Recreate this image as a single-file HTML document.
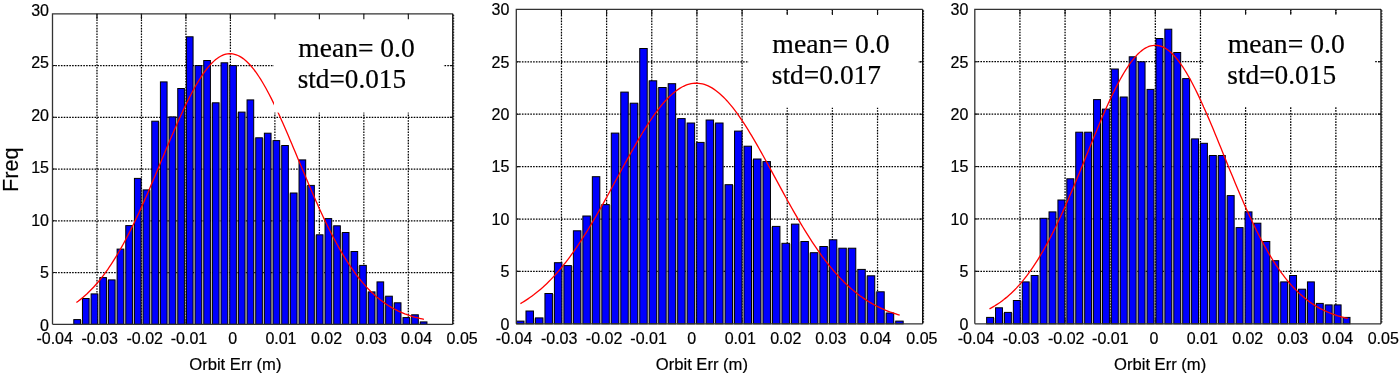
<!DOCTYPE html><html><head><meta charset="utf-8"><style>html,body{margin:0;padding:0;background:#fff;}svg{display:block;will-change:transform;}text{font-family:"Liberation Sans",sans-serif;fill:#000;stroke:#000;stroke-width:0.2px;}</style></head><body><svg width="1400" height="374" viewBox="0 0 1400 374"><rect x="0" y="0" width="1400" height="374" fill="#fff"/><path d="M96.98 13.8V324.3M141.46 13.8V324.3M185.93 13.8V324.3M230.41 13.8V324.3M274.89 13.8V324.3M319.37 13.8V324.3M363.84 13.8V324.3M408.32 13.8V324.3M52.5 272.55H452.8M52.5 220.8H452.8M52.5 169.05H452.8M52.5 117.3H452.8M52.5 65.55H452.8" stroke="#000" stroke-width="1.25" stroke-dasharray="1.6 1.2" fill="none"/><path d="M96.98 324.3v-5.5M141.46 324.3v-5.5M185.93 324.3v-5.5M230.41 324.3v-5.5M274.89 324.3v-5.5M319.37 324.3v-5.5M363.84 324.3v-5.5M408.32 324.3v-5.5" stroke="#111" stroke-width="1.1" fill="none"/><g fill="#0000ff" stroke="#000" stroke-width="1"><rect x="73.79" y="319.6" width="6.66" height="4.7"/><rect x="82.45" y="298.5" width="6.66" height="25.8"/><rect x="91.12" y="293.9" width="6.66" height="30.4"/><rect x="99.78" y="277.6" width="6.66" height="46.7"/><rect x="108.44" y="279.9" width="6.66" height="44.4"/><rect x="117.11" y="249.1" width="6.66" height="75.2"/><rect x="125.77" y="225.6" width="6.66" height="98.7"/><rect x="134.43" y="178.4" width="6.66" height="145.9"/><rect x="143.09" y="189.9" width="6.66" height="134.4"/><rect x="151.76" y="121.2" width="6.66" height="203.1"/><rect x="160.42" y="81.9" width="6.66" height="242.4"/><rect x="169.08" y="116.9" width="6.66" height="207.4"/><rect x="177.75" y="88.5" width="6.66" height="235.8"/><rect x="186.41" y="36.8" width="6.66" height="287.5"/><rect x="195.07" y="65.6" width="6.66" height="258.7"/><rect x="203.74" y="60.5" width="6.66" height="263.8"/><rect x="212.4" y="102.8" width="6.66" height="221.5"/><rect x="221.06" y="62.8" width="6.66" height="261.5"/><rect x="229.72" y="65.6" width="6.66" height="258.7"/><rect x="238.39" y="112.1" width="6.66" height="212.2"/><rect x="247.05" y="99.9" width="6.66" height="224.4"/><rect x="255.71" y="137.8" width="6.66" height="186.5"/><rect x="264.38" y="133.2" width="6.66" height="191.1"/><rect x="273.04" y="140.6" width="6.66" height="183.7"/><rect x="281.7" y="145.5" width="6.66" height="178.8"/><rect x="290.37" y="193" width="6.66" height="131.3"/><rect x="299.03" y="159.9" width="6.66" height="164.4"/><rect x="307.69" y="185.4" width="6.66" height="138.9"/><rect x="316.35" y="234.8" width="6.66" height="89.5"/><rect x="325.02" y="218.6" width="6.66" height="105.7"/><rect x="333.68" y="225.8" width="6.66" height="98.5"/><rect x="342.34" y="232.5" width="6.66" height="91.8"/><rect x="351.01" y="251.5" width="6.66" height="72.8"/><rect x="359.67" y="265.4" width="6.66" height="58.9"/><rect x="368.33" y="291.9" width="6.66" height="32.4"/><rect x="377" y="281.9" width="6.66" height="42.4"/><rect x="385.66" y="296.2" width="6.66" height="28.1"/><rect x="394.32" y="302.8" width="6.66" height="21.5"/><rect x="402.98" y="317.6" width="6.66" height="6.7"/><rect x="411.65" y="314.8" width="6.66" height="9.5"/><rect x="420.31" y="321.9" width="6.66" height="2.4"/></g><g fill="#707040" fill-opacity="0.45"><rect x="80.95" y="320.1" width="1" height="4.2"/><rect x="89.62" y="299" width="1" height="25.3"/><rect x="98.28" y="294.4" width="1" height="29.9"/><rect x="106.94" y="280.4" width="1" height="43.9"/><rect x="115.61" y="280.4" width="1" height="43.9"/><rect x="124.27" y="249.6" width="1" height="74.7"/><rect x="132.93" y="226.1" width="1" height="98.2"/><rect x="141.59" y="190.4" width="1" height="133.9"/><rect x="150.26" y="190.4" width="1" height="133.9"/><rect x="158.92" y="121.7" width="1" height="202.6"/><rect x="167.58" y="117.4" width="1" height="206.9"/><rect x="176.25" y="117.4" width="1" height="206.9"/><rect x="184.91" y="89" width="1" height="235.3"/><rect x="193.57" y="66.1" width="1" height="258.2"/><rect x="202.24" y="66.1" width="1" height="258.2"/><rect x="210.9" y="103.3" width="1" height="221"/><rect x="219.56" y="103.3" width="1" height="221"/><rect x="228.22" y="66.1" width="1" height="258.2"/><rect x="236.89" y="112.6" width="1" height="211.7"/><rect x="245.55" y="112.6" width="1" height="211.7"/><rect x="254.21" y="138.3" width="1" height="186"/><rect x="262.88" y="138.3" width="1" height="186"/><rect x="271.54" y="141.1" width="1" height="183.2"/><rect x="280.2" y="146" width="1" height="178.3"/><rect x="288.87" y="193.5" width="1" height="130.8"/><rect x="297.53" y="193.5" width="1" height="130.8"/><rect x="306.19" y="185.9" width="1" height="138.4"/><rect x="314.85" y="235.3" width="1" height="89"/><rect x="323.52" y="235.3" width="1" height="89"/><rect x="332.18" y="226.3" width="1" height="98"/><rect x="340.84" y="233" width="1" height="91.3"/><rect x="349.51" y="252" width="1" height="72.3"/><rect x="358.17" y="265.9" width="1" height="58.4"/><rect x="366.83" y="292.4" width="1" height="31.9"/><rect x="375.5" y="292.4" width="1" height="31.9"/><rect x="384.16" y="296.7" width="1" height="27.6"/><rect x="392.82" y="303.3" width="1" height="21"/><rect x="401.48" y="318.1" width="1" height="6.2"/><rect x="410.15" y="318.1" width="1" height="6.2"/><rect x="418.81" y="322.4" width="1" height="1.9"/></g><polyline points="76.4,302.47 78.14,301.2 79.88,299.87 81.61,298.48 83.35,297.03 85.09,295.51 86.83,293.94 88.56,292.29 90.3,290.58 92.04,288.8 93.78,286.95 95.51,285.03 97.25,283.04 98.99,280.97 100.73,278.83 102.46,276.61 104.2,274.32 105.94,271.95 107.68,269.51 109.41,266.98 111.15,264.38 112.89,261.71 114.62,258.95 116.36,256.12 118.1,253.21 119.84,250.22 121.58,247.16 123.31,244.02 125.05,240.81 126.79,237.53 128.53,234.17 130.26,230.75 132,227.26 133.74,223.7 135.48,220.08 137.21,216.4 138.95,212.66 140.69,208.86 142.43,205.01 144.16,201.12 145.9,197.17 147.64,193.19 149.38,189.17 151.11,185.11 152.85,181.03 154.59,176.92 156.32,172.79 158.06,168.64 159.8,164.48 161.54,160.32 163.28,156.16 165.01,152 166.75,147.86 168.49,143.73 170.23,139.62 171.96,135.54 173.7,131.49 175.44,127.49 177.18,123.53 178.91,119.62 180.65,115.77 182.39,111.99 184.12,108.27 185.86,104.63 187.6,101.08 189.34,97.61 191.07,94.24 192.81,90.96 194.55,87.79 196.29,84.74 198.03,81.8 199.76,78.98 201.5,76.29 203.24,73.73 204.97,71.3 206.71,69.02 208.45,66.88 210.19,64.9 211.93,63.06 213.66,61.38 215.4,59.86 217.14,58.5 218.88,57.31 220.61,56.28 222.35,55.43 224.09,54.74 225.83,54.23 227.56,53.89 229.3,53.72 231.04,53.73 232.78,53.91 234.51,54.26 236.25,54.79 237.99,55.49 239.72,56.36 241.46,57.4 243.2,58.6 244.94,59.97 246.68,61.51 248.41,63.2 250.15,65.05 251.89,67.05 253.62,69.2 255.36,71.49 257.1,73.92 258.84,76.5 260.58,79.2 262.31,82.03 264.05,84.98 265.79,88.04 267.52,91.22 269.26,94.5 271,97.88 272.74,101.36 274.48,104.92 276.21,108.56 277.95,112.28 279.69,116.07 281.43,119.93 283.16,123.84 284.9,127.8 286.64,131.81 288.38,135.86 290.11,139.94 291.85,144.05 293.59,148.18 295.33,152.33 297.06,156.49 298.8,160.65 300.54,164.81 302.27,168.97 304.01,173.11 305.75,177.24 307.49,181.35 309.23,185.43 310.96,189.49 312.7,193.51 314.44,197.49 316.18,201.43 317.91,205.32 319.65,209.16 321.39,212.95 323.12,216.69 324.86,220.37 326.6,223.98 328.34,227.53 330.08,231.02 331.81,234.44 333.55,237.79 335.29,241.07 337.02,244.27 338.76,247.4 340.5,250.46 342.24,253.44 343.98,256.35 345.71,259.17 347.45,261.92 349.19,264.59 350.92,267.19 352.66,269.7 354.4,272.14 356.14,274.51 357.88,276.79 359.61,279 361.35,281.14 363.09,283.2 364.83,285.18 366.56,287.1 368.3,288.94 370.04,290.72 371.77,292.43 373.51,294.06 375.25,295.64 376.99,297.15 378.73,298.59 380.46,299.98 382.2,301.3 383.94,302.57 385.67,303.78 387.41,304.93 389.15,306.03 390.89,307.08 392.62,308.08 394.36,309.04 396.1,309.94 397.84,310.8 399.58,311.62 401.31,312.39 403.05,313.13 404.79,313.83 406.52,314.48 408.26,315.11 410,315.7 411.74,316.26 413.48,316.78 415.21,317.28 416.95,317.74 418.69,318.18 420.42,318.6 422.16,318.99 423.9,319.35" fill="none" stroke="#ff0000" stroke-width="1.3"/><rect x="274" y="14.5" width="169.8" height="98.1" fill="#fff"/><text x="298.3" y="57.3" textLength="116.43" lengthAdjust="spacingAndGlyphs" style="font-family:'Liberation Serif',serif;font-size:28px">mean= 0.0</text><text x="297.73" y="88.2" textLength="108.33" lengthAdjust="spacingAndGlyphs" style="font-family:'Liberation Serif',serif;font-size:28px">std=0.015</text><path d="M96.98 13.8v5.5M141.46 13.8v5.5M185.93 13.8v5.5M230.41 13.8v5.5M274.89 13.8v5.5M319.37 13.8v5.5M363.84 13.8v5.5M408.32 13.8v5.5M52.5 272.55h3M452.8 272.55h-3M52.5 220.8h3M452.8 220.8h-3M52.5 169.05h3M452.8 169.05h-3M52.5 117.3h3M452.8 117.3h-3M52.5 65.55h3M452.8 65.55h-3" stroke="#111" stroke-width="1.1" fill="none"/><path d="M52.5 324.3V13.8H452.8M52.5 324.3H452.8" stroke="#333" stroke-width="1.3" fill="none"/><path d="M452.8 13.8V324.3" stroke="#000" stroke-width="1.3" fill="none"/><path d="M453.7 14.8V324.3" stroke="#000" stroke-width="0.9" stroke-dasharray="1.4 1.4" fill="none"/><text x="54.65" y="343.8" text-anchor="middle" font-size="16">-0.04</text><text x="99.65" y="343.8" text-anchor="middle" font-size="16">-0.03</text><text x="144.75" y="343.8" text-anchor="middle" font-size="16">-0.02</text><text x="189" y="343.8" text-anchor="middle" font-size="16">-0.01</text><text x="232.75" y="343.8" text-anchor="middle" font-size="16">0</text><text x="280.95" y="343.8" text-anchor="middle" font-size="16">0.01</text><text x="326.55" y="343.8" text-anchor="middle" font-size="16">0.02</text><text x="371.4" y="343.8" text-anchor="middle" font-size="16">0.03</text><text x="416.5" y="343.8" text-anchor="middle" font-size="16">0.04</text><text x="462.15" y="343.8" text-anchor="middle" font-size="16">0.05</text><text x="49" y="330.95" text-anchor="end" font-size="16">0</text><text x="49" y="278.45" text-anchor="end" font-size="16">5</text><text x="49" y="225.95" text-anchor="end" font-size="16">10</text><text x="49" y="173.45" text-anchor="end" font-size="16">15</text><text x="49" y="120.95" text-anchor="end" font-size="16">20</text><text x="49" y="68.45" text-anchor="end" font-size="16">25</text><text x="49" y="15.95" text-anchor="end" font-size="16">30</text><text x="235.35" y="369.9" text-anchor="middle" font-size="16.6">Orbit Err (m)</text><path d="M561.46 9.4V323.8M606.61 9.4V323.8M651.77 9.4V323.8M696.92 9.4V323.8M742.08 9.4V323.8M787.23 9.4V323.8M832.39 9.4V323.8M877.54 9.4V323.8M516.3 271.4H922.7M516.3 219H922.7M516.3 166.6H922.7M516.3 114.2H922.7M516.3 61.8H922.7" stroke="#000" stroke-width="1.25" stroke-dasharray="1.6 1.2" fill="none"/><path d="M561.46 323.8v-5.5M606.61 323.8v-5.5M651.77 323.8v-5.5M696.92 323.8v-5.5M742.08 323.8v-5.5M787.23 323.8v-5.5M832.39 323.8v-5.5M877.54 323.8v-5.5" stroke="#111" stroke-width="1.1" fill="none"/><g fill="#0000ff" stroke="#000" stroke-width="1"><rect x="516.5" y="321.1" width="7.48" height="2.7"/><rect x="525.98" y="311" width="7.48" height="12.8"/><rect x="535.46" y="317.9" width="7.48" height="5.9"/><rect x="544.94" y="293.5" width="7.48" height="30.3"/><rect x="554.42" y="262.7" width="7.48" height="61.1"/><rect x="563.9" y="265.6" width="7.48" height="58.2"/><rect x="573.38" y="230.8" width="7.48" height="93"/><rect x="582.86" y="216" width="7.48" height="107.8"/><rect x="592.34" y="176.7" width="7.48" height="147.1"/><rect x="601.82" y="204.6" width="7.48" height="119.2"/><rect x="611.3" y="133.1" width="7.48" height="190.7"/><rect x="620.78" y="92.1" width="7.48" height="231.7"/><rect x="630.26" y="103.2" width="7.48" height="220.6"/><rect x="639.74" y="48.5" width="7.48" height="275.3"/><rect x="649.22" y="80.8" width="7.48" height="243"/><rect x="658.7" y="87.5" width="7.48" height="236.3"/><rect x="668.18" y="83.7" width="7.48" height="240.1"/><rect x="677.66" y="118.6" width="7.48" height="205.2"/><rect x="687.14" y="123" width="7.48" height="200.8"/><rect x="696.62" y="142.4" width="7.48" height="181.4"/><rect x="706.1" y="120" width="7.48" height="203.8"/><rect x="715.58" y="123" width="7.48" height="200.8"/><rect x="725.06" y="184.7" width="7.48" height="139.1"/><rect x="734.54" y="131.1" width="7.48" height="192.7"/><rect x="744.02" y="146.2" width="7.48" height="177.6"/><rect x="753.5" y="159" width="7.48" height="164.8"/><rect x="762.98" y="161.6" width="7.48" height="162.2"/><rect x="772.46" y="226.4" width="7.48" height="97.4"/><rect x="781.94" y="243.3" width="7.48" height="80.5"/><rect x="791.42" y="224.1" width="7.48" height="99.7"/><rect x="800.9" y="241.5" width="7.48" height="82.3"/><rect x="810.38" y="252.7" width="7.48" height="71.1"/><rect x="819.86" y="246.5" width="7.48" height="77.3"/><rect x="829.34" y="239.8" width="7.48" height="84"/><rect x="838.82" y="248.2" width="7.48" height="75.6"/><rect x="848.3" y="248.2" width="7.48" height="75.6"/><rect x="857.78" y="269.4" width="7.48" height="54.4"/><rect x="867.26" y="275.8" width="7.48" height="48"/><rect x="876.74" y="291.8" width="7.48" height="32"/><rect x="886.22" y="313" width="7.48" height="10.8"/><rect x="895.7" y="321.1" width="7.48" height="2.7"/></g><g fill="#707040" fill-opacity="0.45"><rect x="524.48" y="321.6" width="1" height="2.2"/><rect x="533.96" y="318.4" width="1" height="5.4"/><rect x="543.44" y="318.4" width="1" height="5.4"/><rect x="552.92" y="294" width="1" height="29.8"/><rect x="562.4" y="266.1" width="1" height="57.7"/><rect x="571.88" y="266.1" width="1" height="57.7"/><rect x="581.36" y="231.3" width="1" height="92.5"/><rect x="590.84" y="216.5" width="1" height="107.3"/><rect x="600.32" y="205.1" width="1" height="118.7"/><rect x="609.8" y="205.1" width="1" height="118.7"/><rect x="619.28" y="133.6" width="1" height="190.2"/><rect x="628.76" y="103.7" width="1" height="220.1"/><rect x="638.24" y="103.7" width="1" height="220.1"/><rect x="647.72" y="81.3" width="1" height="242.5"/><rect x="657.2" y="88" width="1" height="235.8"/><rect x="666.68" y="88" width="1" height="235.8"/><rect x="676.16" y="119.1" width="1" height="204.7"/><rect x="685.64" y="123.5" width="1" height="200.3"/><rect x="695.12" y="142.9" width="1" height="180.9"/><rect x="704.6" y="142.9" width="1" height="180.9"/><rect x="714.08" y="123.5" width="1" height="200.3"/><rect x="723.56" y="185.2" width="1" height="138.6"/><rect x="733.04" y="185.2" width="1" height="138.6"/><rect x="742.52" y="146.7" width="1" height="177.1"/><rect x="752" y="159.5" width="1" height="164.3"/><rect x="761.48" y="162.1" width="1" height="161.7"/><rect x="770.96" y="226.9" width="1" height="96.9"/><rect x="780.44" y="243.8" width="1" height="80"/><rect x="789.92" y="243.8" width="1" height="80"/><rect x="799.4" y="242" width="1" height="81.8"/><rect x="808.88" y="253.2" width="1" height="70.6"/><rect x="818.36" y="253.2" width="1" height="70.6"/><rect x="827.84" y="247" width="1" height="76.8"/><rect x="837.32" y="248.7" width="1" height="75.1"/><rect x="846.8" y="248.7" width="1" height="75.1"/><rect x="856.28" y="269.9" width="1" height="53.9"/><rect x="865.76" y="276.3" width="1" height="47.5"/><rect x="875.24" y="292.3" width="1" height="31.5"/><rect x="884.72" y="313.5" width="1" height="10.3"/><rect x="894.2" y="321.6" width="1" height="2.2"/></g><polyline points="520.4,303.57 522.3,302.47 524.19,301.32 526.09,300.12 527.99,298.87 529.88,297.57 531.78,296.21 533.68,294.81 535.57,293.35 537.47,291.84 539.37,290.27 541.26,288.64 543.16,286.96 545.05,285.21 546.95,283.41 548.85,281.55 550.74,279.63 552.64,277.64 554.54,275.6 556.43,273.49 558.33,271.33 560.23,269.1 562.12,266.81 564.02,264.45 565.92,262.04 567.81,259.56 569.71,257.03 571.61,254.43 573.5,251.77 575.4,249.06 577.29,246.29 579.19,243.46 581.09,240.58 582.98,237.64 584.88,234.65 586.78,231.61 588.67,228.52 590.57,225.38 592.47,222.2 594.36,218.98 596.26,215.71 598.16,212.41 600.05,209.08 601.95,205.71 603.85,202.31 605.74,198.89 607.64,195.45 609.54,191.98 611.43,188.5 613.33,185.01 615.23,181.52 617.12,178.01 619.02,174.51 620.91,171.01 622.81,167.52 624.71,164.04 626.6,160.58 628.5,157.14 630.4,153.73 632.29,150.34 634.19,146.99 636.09,143.68 637.98,140.41 639.88,137.19 641.78,134.03 643.67,130.92 645.57,127.87 647.47,124.89 649.36,121.98 651.26,119.15 653.15,116.39 655.05,113.72 656.95,111.14 658.84,108.65 660.74,106.26 662.64,103.96 664.53,101.77 666.43,99.69 668.33,97.72 670.22,95.86 672.12,94.12 674.02,92.5 675.91,91 677.81,89.63 679.71,88.39 681.6,87.27 683.5,86.29 685.4,85.44 687.29,84.72 689.19,84.15 691.09,83.7 692.98,83.4 694.88,83.23 696.77,83.21 698.67,83.32 700.57,83.57 702.46,83.96 704.36,84.48 706.26,85.14 708.15,85.94 710.05,86.87 711.95,87.93 713.84,89.13 715.74,90.45 717.64,91.9 719.53,93.47 721.43,95.16 723.33,96.97 725.22,98.9 727.12,100.94 729.01,103.09 730.91,105.34 732.81,107.69 734.7,110.15 736.6,112.69 738.5,115.33 740.39,118.05 742.29,120.85 744.19,123.73 746.08,126.69 747.98,129.71 749.88,132.79 751.77,135.94 753.67,139.14 755.57,142.39 757.46,145.68 759.36,149.02 761.26,152.39 763.15,155.79 765.05,159.22 766.95,162.68 768.84,166.15 770.74,169.64 772.63,173.13 774.53,176.63 776.43,180.14 778.32,183.64 780.22,187.13 782.12,190.61 784.01,194.08 785.91,197.54 787.81,200.97 789.7,204.37 791.6,207.75 793.5,211.1 795.39,214.42 797.29,217.69 799.19,220.93 801.08,224.13 802.98,227.29 804.88,230.39 806.77,233.45 808.67,236.46 810.56,239.42 812.46,242.33 814.36,245.18 816.25,247.97 818.15,250.71 820.05,253.39 821.94,256.01 823.84,258.57 825.74,261.07 827.63,263.51 829.53,265.89 831.43,268.2 833.32,270.46 835.22,272.65 837.12,274.78 839.01,276.85 840.91,278.85 842.81,280.8 844.7,282.68 846.6,284.51 848.49,286.28 850.39,287.98 852.29,289.63 854.18,291.23 856.08,292.76 857.98,294.24 859.87,295.67 861.77,297.04 863.67,298.36 865.56,299.63 867.46,300.85 869.36,302.02 871.25,303.14 873.15,304.22 875.05,305.25 876.94,306.23 878.84,307.18 880.74,308.08 882.63,308.94 884.53,309.76 886.42,310.55 888.32,311.3 890.22,312.01 892.11,312.69 894.01,313.33 895.91,313.95 897.8,314.53 899.7,315.08" fill="none" stroke="#ff0000" stroke-width="1.3"/><rect x="748.5" y="15" width="169.5" height="92.5" fill="#fff"/><text x="772.3" y="52.8" textLength="117.43" lengthAdjust="spacingAndGlyphs" style="font-family:'Liberation Serif',serif;font-size:28px">mean= 0.0</text><text x="771.82" y="83.9" textLength="109.24" lengthAdjust="spacingAndGlyphs" style="font-family:'Liberation Serif',serif;font-size:28px">std=0.017</text><path d="M561.46 9.4v5.5M606.61 9.4v5.5M651.77 9.4v5.5M696.92 9.4v5.5M742.08 9.4v5.5M787.23 9.4v5.5M832.39 9.4v5.5M877.54 9.4v5.5M516.3 271.4h3M922.7 271.4h-3M516.3 219h3M922.7 219h-3M516.3 166.6h3M922.7 166.6h-3M516.3 114.2h3M922.7 114.2h-3M516.3 61.8h3M922.7 61.8h-3" stroke="#111" stroke-width="1.1" fill="none"/><path d="M516.3 323.8V9.4H922.7M516.3 323.8H922.7" stroke="#333" stroke-width="1.3" fill="none"/><path d="M922.7 9.4V323.8" stroke="#000" stroke-width="1.3" fill="none"/><path d="M923.6 10.4V323.8" stroke="#000" stroke-width="0.9" stroke-dasharray="1.4 1.4" fill="none"/><text x="514.05" y="343.8" text-anchor="middle" font-size="16">-0.04</text><text x="559.15" y="343.8" text-anchor="middle" font-size="16">-0.03</text><text x="604.05" y="343.8" text-anchor="middle" font-size="16">-0.02</text><text x="648.55" y="343.8" text-anchor="middle" font-size="16">-0.01</text><text x="691.65" y="343.8" text-anchor="middle" font-size="16">0</text><text x="740.25" y="343.8" text-anchor="middle" font-size="16">0.01</text><text x="785.75" y="343.8" text-anchor="middle" font-size="16">0.02</text><text x="830.8" y="343.8" text-anchor="middle" font-size="16">0.03</text><text x="875.65" y="343.8" text-anchor="middle" font-size="16">0.04</text><text x="921.9" y="343.8" text-anchor="middle" font-size="16">0.05</text><text x="509.3" y="329.55" text-anchor="end" font-size="16">0</text><text x="509.3" y="277.15" text-anchor="end" font-size="16">5</text><text x="509.3" y="224.75" text-anchor="end" font-size="16">10</text><text x="509.3" y="172.35" text-anchor="end" font-size="16">15</text><text x="509.3" y="119.95" text-anchor="end" font-size="16">20</text><text x="509.3" y="67.55" text-anchor="end" font-size="16">25</text><text x="509.3" y="15.15" text-anchor="end" font-size="16">30</text><text x="701.9" y="369.9" text-anchor="middle" font-size="16.6">Orbit Err (m)</text><path d="M1019.93 9.3V323.8M1065.07 9.3V323.8M1110.2 9.3V323.8M1155.33 9.3V323.8M1200.47 9.3V323.8M1245.6 9.3V323.8M1290.73 9.3V323.8M1335.87 9.3V323.8M974.8 271.38H1381M974.8 218.97H1381M974.8 166.55H1381M974.8 114.13H1381M974.8 61.72H1381" stroke="#000" stroke-width="1.25" stroke-dasharray="1.6 1.2" fill="none"/><path d="M1019.93 323.8v-5.5M1065.07 323.8v-5.5M1110.2 323.8v-5.5M1155.33 323.8v-5.5M1200.47 323.8v-5.5M1245.6 323.8v-5.5M1290.73 323.8v-5.5M1335.87 323.8v-5.5" stroke="#111" stroke-width="1.1" fill="none"/><g fill="#0000ff" stroke="#000" stroke-width="1"><rect x="986.64" y="317.4" width="6.91" height="6.4"/><rect x="995.55" y="307.8" width="6.91" height="16"/><rect x="1004.46" y="312.4" width="6.91" height="11.4"/><rect x="1013.37" y="300.5" width="6.91" height="23.3"/><rect x="1022.28" y="281.9" width="6.91" height="41.9"/><rect x="1031.19" y="275.5" width="6.91" height="48.3"/><rect x="1040.11" y="218.3" width="6.91" height="105.5"/><rect x="1049.02" y="211.9" width="6.91" height="111.9"/><rect x="1057.93" y="200" width="6.91" height="123.8"/><rect x="1066.84" y="178.8" width="6.91" height="145"/><rect x="1075.75" y="132.2" width="6.91" height="191.6"/><rect x="1084.66" y="132.2" width="6.91" height="191.6"/><rect x="1093.57" y="99.6" width="6.91" height="224.2"/><rect x="1102.48" y="109.1" width="6.91" height="214.7"/><rect x="1111.39" y="69" width="6.91" height="254.8"/><rect x="1120.31" y="97" width="6.91" height="226.8"/><rect x="1129.22" y="56.8" width="6.91" height="267"/><rect x="1138.13" y="61.8" width="6.91" height="262"/><rect x="1147.04" y="89.4" width="6.91" height="234.4"/><rect x="1155.95" y="38.5" width="6.91" height="285.3"/><rect x="1164.86" y="29.2" width="6.91" height="294.6"/><rect x="1173.77" y="52.5" width="6.91" height="271.3"/><rect x="1182.68" y="78.6" width="6.91" height="245.2"/><rect x="1191.59" y="138.9" width="6.91" height="184.9"/><rect x="1200.5" y="143.3" width="6.91" height="180.5"/><rect x="1209.41" y="155.5" width="6.91" height="168.3"/><rect x="1218.33" y="155.5" width="6.91" height="168.3"/><rect x="1227.24" y="195.6" width="6.91" height="128.2"/><rect x="1236.15" y="227.6" width="6.91" height="96.2"/><rect x="1245.06" y="211.9" width="6.91" height="111.9"/><rect x="1253.97" y="223.2" width="6.91" height="100.6"/><rect x="1262.88" y="241.5" width="6.91" height="82.3"/><rect x="1271.79" y="260.7" width="6.91" height="63.1"/><rect x="1280.7" y="281.9" width="6.91" height="41.9"/><rect x="1289.61" y="275.5" width="6.91" height="48.3"/><rect x="1298.53" y="289.2" width="6.91" height="34.6"/><rect x="1307.44" y="281.9" width="6.91" height="41.9"/><rect x="1316.35" y="303.4" width="6.91" height="20.4"/><rect x="1325.26" y="304.9" width="6.91" height="18.9"/><rect x="1334.17" y="304.9" width="6.91" height="18.9"/><rect x="1343.08" y="317.4" width="6.91" height="6.4"/></g><g fill="#707040" fill-opacity="0.45"><rect x="994.05" y="317.9" width="1" height="5.9"/><rect x="1002.96" y="312.9" width="1" height="10.9"/><rect x="1011.87" y="312.9" width="1" height="10.9"/><rect x="1020.78" y="301" width="1" height="22.8"/><rect x="1029.69" y="282.4" width="1" height="41.4"/><rect x="1038.61" y="276" width="1" height="47.8"/><rect x="1047.52" y="218.8" width="1" height="105"/><rect x="1056.43" y="212.4" width="1" height="111.4"/><rect x="1065.34" y="200.5" width="1" height="123.3"/><rect x="1074.25" y="179.3" width="1" height="144.5"/><rect x="1083.16" y="132.7" width="1" height="191.1"/><rect x="1092.07" y="132.7" width="1" height="191.1"/><rect x="1100.98" y="109.6" width="1" height="214.2"/><rect x="1109.89" y="109.6" width="1" height="214.2"/><rect x="1118.81" y="97.5" width="1" height="226.3"/><rect x="1127.72" y="97.5" width="1" height="226.3"/><rect x="1136.63" y="62.3" width="1" height="261.5"/><rect x="1145.54" y="89.9" width="1" height="233.9"/><rect x="1154.45" y="89.9" width="1" height="233.9"/><rect x="1163.36" y="39" width="1" height="284.8"/><rect x="1172.27" y="53" width="1" height="270.8"/><rect x="1181.18" y="79.1" width="1" height="244.7"/><rect x="1190.09" y="139.4" width="1" height="184.4"/><rect x="1199" y="143.8" width="1" height="180"/><rect x="1207.91" y="156" width="1" height="167.8"/><rect x="1216.83" y="156" width="1" height="167.8"/><rect x="1225.74" y="196.1" width="1" height="127.7"/><rect x="1234.65" y="228.1" width="1" height="95.7"/><rect x="1243.56" y="228.1" width="1" height="95.7"/><rect x="1252.47" y="223.7" width="1" height="100.1"/><rect x="1261.38" y="242" width="1" height="81.8"/><rect x="1270.29" y="261.2" width="1" height="62.6"/><rect x="1279.2" y="282.4" width="1" height="41.4"/><rect x="1288.11" y="282.4" width="1" height="41.4"/><rect x="1297.03" y="289.7" width="1" height="34.1"/><rect x="1305.94" y="289.7" width="1" height="34.1"/><rect x="1314.85" y="303.9" width="1" height="19.9"/><rect x="1323.76" y="305.4" width="1" height="18.4"/><rect x="1332.67" y="305.4" width="1" height="18.4"/><rect x="1341.58" y="317.9" width="1" height="5.9"/></g><polyline points="989.5,308.87 991.29,307.9 993.08,306.87 994.87,305.8 996.66,304.67 998.46,303.48 1000.25,302.24 1002.04,300.93 1003.83,299.57 1005.62,298.13 1007.41,296.63 1009.2,295.07 1010.99,293.43 1012.78,291.72 1014.57,289.94 1016.37,288.09 1018.16,286.16 1019.95,284.15 1021.74,282.06 1023.53,279.9 1025.32,277.65 1027.11,275.32 1028.9,272.91 1030.69,270.41 1032.48,267.83 1034.28,265.17 1036.07,262.42 1037.86,259.59 1039.65,256.67 1041.44,253.67 1043.23,250.58 1045.02,247.41 1046.81,244.16 1048.6,240.82 1050.39,237.4 1052.18,233.91 1053.98,230.34 1055.77,226.69 1057.56,222.96 1059.35,219.17 1061.14,215.31 1062.93,211.38 1064.72,207.39 1066.51,203.34 1068.3,199.24 1070.1,195.08 1071.89,190.88 1073.68,186.63 1075.47,182.34 1077.26,178.02 1079.05,173.67 1080.84,169.29 1082.63,164.9 1084.42,160.49 1086.21,156.08 1088.01,151.66 1089.8,147.25 1091.59,142.85 1093.38,138.47 1095.17,134.11 1096.96,129.78 1098.75,125.48 1100.54,121.23 1102.33,117.03 1104.12,112.89 1105.91,108.81 1107.71,104.8 1109.5,100.87 1111.29,97.03 1113.08,93.27 1114.87,89.62 1116.66,86.07 1118.45,82.63 1120.24,79.3 1122.03,76.1 1123.83,73.03 1125.62,70.1 1127.41,67.31 1129.2,64.66 1130.99,62.16 1132.78,59.82 1134.57,57.65 1136.36,55.63 1138.15,53.79 1139.94,52.12 1141.74,50.63 1143.53,49.32 1145.32,48.18 1147.11,47.24 1148.9,46.48 1150.69,45.9 1152.48,45.52 1154.27,45.33 1156.06,45.32 1157.85,45.51 1159.64,45.89 1161.44,46.45 1163.23,47.21 1165.02,48.15 1166.81,49.27 1168.6,50.58 1170.39,52.06 1172.18,53.73 1173.97,55.56 1175.76,57.57 1177.56,59.74 1179.35,62.08 1181.14,64.57 1182.93,67.21 1184.72,70 1186.51,72.92 1188.3,75.99 1190.09,79.18 1191.88,82.5 1193.67,85.94 1195.47,89.49 1197.26,93.14 1199.05,96.89 1200.84,100.73 1202.63,104.66 1204.42,108.66 1206.21,112.74 1208,116.88 1209.79,121.08 1211.58,125.33 1213.38,129.62 1215.17,133.95 1216.96,138.31 1218.75,142.69 1220.54,147.09 1222.33,151.5 1224.12,155.92 1225.91,160.33 1227.7,164.74 1229.49,169.14 1231.29,173.51 1233.08,177.86 1234.87,182.19 1236.66,186.47 1238.45,190.72 1240.24,194.93 1242.03,199.09 1243.82,203.19 1245.61,207.25 1247.4,211.24 1249.2,215.17 1250.99,219.03 1252.78,222.83 1254.57,226.55 1256.36,230.2 1258.15,233.78 1259.94,237.28 1261.73,240.7 1263.52,244.04 1265.31,247.29 1267.11,250.47 1268.9,253.56 1270.69,256.56 1272.48,259.48 1274.27,262.32 1276.06,265.07 1277.85,267.74 1279.64,270.32 1281.43,272.82 1283.22,275.23 1285.02,277.57 1286.81,279.82 1288.6,281.99 1290.39,284.08 1292.18,286.09 1293.97,288.02 1295.76,289.88 1297.55,291.66 1299.34,293.37 1301.13,295.01 1302.92,296.58 1304.72,298.08 1306.51,299.51 1308.3,300.89 1310.09,302.19 1311.88,303.44 1313.67,304.63 1315.46,305.76 1317.25,306.84 1319.04,307.86 1320.84,308.83 1322.63,309.75 1324.42,310.63 1326.21,311.46 1328,312.24 1329.79,312.98 1331.58,313.68 1333.37,314.34 1335.16,314.97 1336.95,315.56 1338.75,316.11 1340.54,316.64 1342.33,317.13 1344.12,317.59 1345.91,318.02 1347.7,318.43" fill="none" stroke="#ff0000" stroke-width="1.3"/><rect x="1204" y="15" width="170" height="92" fill="#fff"/><text x="1227.8" y="52.8" textLength="116.93" lengthAdjust="spacingAndGlyphs" style="font-family:'Liberation Serif',serif;font-size:28px">mean= 0.0</text><text x="1227.32" y="83.9" textLength="108.73" lengthAdjust="spacingAndGlyphs" style="font-family:'Liberation Serif',serif;font-size:28px">std=0.015</text><path d="M1019.93 9.3v5.5M1065.07 9.3v5.5M1110.2 9.3v5.5M1155.33 9.3v5.5M1200.47 9.3v5.5M1245.6 9.3v5.5M1290.73 9.3v5.5M1335.87 9.3v5.5M974.8 271.38h3M1381 271.38h-3M974.8 218.97h3M1381 218.97h-3M974.8 166.55h3M1381 166.55h-3M974.8 114.13h3M1381 114.13h-3M974.8 61.72h3M1381 61.72h-3" stroke="#111" stroke-width="1.1" fill="none"/><path d="M974.8 323.8V9.3H1381M974.8 323.8H1381" stroke="#333" stroke-width="1.3" fill="none"/><path d="M1381 9.3V323.8" stroke="#000" stroke-width="1.3" fill="none"/><path d="M1381.9 10.3V323.8" stroke="#000" stroke-width="0.9" stroke-dasharray="1.4 1.4" fill="none"/><text x="975.95" y="343.8" text-anchor="middle" font-size="16">-0.04</text><text x="1021.05" y="343.8" text-anchor="middle" font-size="16">-0.03</text><text x="1066.25" y="343.8" text-anchor="middle" font-size="16">-0.02</text><text x="1110.35" y="343.8" text-anchor="middle" font-size="16">-0.01</text><text x="1153.85" y="343.8" text-anchor="middle" font-size="16">0</text><text x="1202.25" y="343.8" text-anchor="middle" font-size="16">0.01</text><text x="1247.7" y="343.8" text-anchor="middle" font-size="16">0.02</text><text x="1292.7" y="343.8" text-anchor="middle" font-size="16">0.03</text><text x="1337.6" y="343.8" text-anchor="middle" font-size="16">0.04</text><text x="1383.3" y="343.8" text-anchor="middle" font-size="16">0.05</text><text x="968.3" y="329.55" text-anchor="end" font-size="16">0</text><text x="968.3" y="277.15" text-anchor="end" font-size="16">5</text><text x="968.3" y="224.75" text-anchor="end" font-size="16">10</text><text x="968.3" y="172.35" text-anchor="end" font-size="16">15</text><text x="968.3" y="119.95" text-anchor="end" font-size="16">20</text><text x="968.3" y="67.55" text-anchor="end" font-size="16">25</text><text x="968.3" y="15.15" text-anchor="end" font-size="16">30</text><text x="1160.15" y="369.9" text-anchor="middle" font-size="16.6">Orbit Err (m)</text><text transform="translate(18.4 169.8) rotate(-90)" text-anchor="middle" font-size="21.6">Freq</text></svg></body></html>
